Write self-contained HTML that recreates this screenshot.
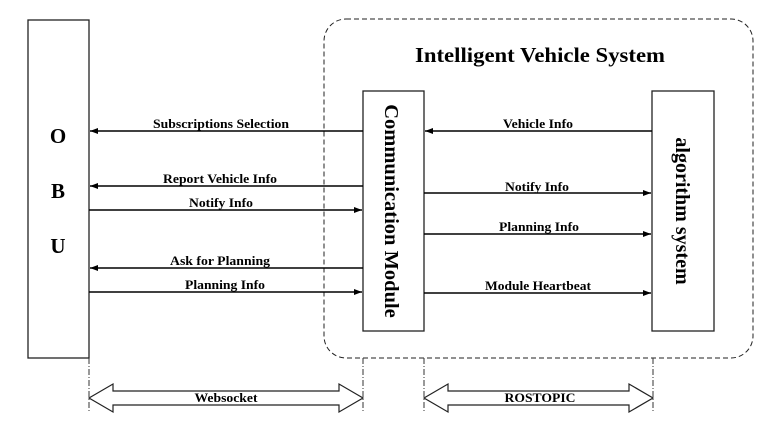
<!DOCTYPE html>
<html><head><style>body{margin:0;background:#fff}</style></head><body>
<svg width="781" height="435" viewBox="0 0 781 435" xmlns="http://www.w3.org/2000/svg" font-family="Liberation Serif, serif" font-weight="bold">
<defs><marker id="a" markerWidth="8" markerHeight="6" refX="8" refY="3" orient="auto" markerUnits="userSpaceOnUse"><path d="M0,0L8,3L0,6z" fill="#000"/></marker></defs>
<rect x="324" y="19" width="429" height="339" rx="22" fill="none" stroke="#222" stroke-dasharray="5,3"/>
<text x="540" y="62" font-size="21" text-anchor="middle" textLength="250" lengthAdjust="spacingAndGlyphs">Intelligent Vehicle System</text>
<rect x="28" y="20" width="61" height="338" fill="#fff" stroke="#222" stroke-width="1.3"/>
<text x="58" y="143" font-size="21" text-anchor="middle">O</text>
<text x="58" y="198" font-size="21" text-anchor="middle">B</text>
<text x="58" y="253" font-size="21" text-anchor="middle">U</text>
<rect x="363" y="91" width="61" height="240" fill="#fff" stroke="#222" stroke-width="1.3"/>
<text transform="translate(385,211) rotate(90)" font-size="20.5" text-anchor="middle">Communication Module</text>
<rect x="652" y="91" width="62" height="240" fill="#fff" stroke="#222" stroke-width="1.3"/>
<text transform="translate(676,211) rotate(90)" font-size="20" text-anchor="middle">algorithm system</text>
<g stroke="#000" stroke-width="1.5" marker-end="url(#a)">
<line x1="363" y1="131" x2="90" y2="131"/>
<line x1="363" y1="186" x2="90" y2="186"/>
<line x1="89" y1="210" x2="362" y2="210"/>
<line x1="363" y1="268" x2="90" y2="268"/>
<line x1="89" y1="292" x2="362" y2="292"/>
<line x1="652" y1="131" x2="425" y2="131"/>
<line x1="424" y1="193" x2="651" y2="193"/>
<line x1="424" y1="234" x2="651" y2="234"/>
<line x1="424" y1="293" x2="651" y2="293"/>
</g>
<g font-size="12.5" text-anchor="middle" lengthAdjust="spacingAndGlyphs">
<text x="221" y="128" textLength="136" lengthAdjust="spacingAndGlyphs">Subscriptions Selection</text>
<text x="220" y="183" textLength="114" lengthAdjust="spacingAndGlyphs">Report Vehicle Info</text>
<text x="221" y="207" textLength="64" lengthAdjust="spacingAndGlyphs">Notify Info</text>
<text x="220" y="265" textLength="100" lengthAdjust="spacingAndGlyphs">Ask for Planning</text>
<text x="225" y="289" textLength="80" lengthAdjust="spacingAndGlyphs">Planning Info</text>
<text x="538" y="128" textLength="70" lengthAdjust="spacingAndGlyphs">Vehicle Info</text>
<text x="537" y="191" textLength="64" lengthAdjust="spacingAndGlyphs">Notify Info</text>
<text x="539" y="231" textLength="80" lengthAdjust="spacingAndGlyphs">Planning Info</text>
<text x="538" y="290" textLength="106" lengthAdjust="spacingAndGlyphs">Module Heartbeat</text>
</g>
<g stroke="#333" stroke-dasharray="6,2,1,2" fill="none">
<line x1="89" y1="358" x2="89" y2="412"/><line x1="363" y1="358" x2="363" y2="412"/>
<line x1="424" y1="358" x2="424" y2="412"/><line x1="653" y1="358" x2="653" y2="412"/>
</g>
<g fill="#fff" stroke="#222" stroke-width="1.2">
<path d="M89,398 L113,384 L113,391 L339,391 L339,384 L363,398 L339,412 L339,405 L113,405 L113,412 Z"/>
<path d="M424,398 L448,384 L448,391 L629,391 L629,384 L653,398 L629,412 L629,405 L448,405 L448,412 Z"/>
</g>
<text x="226" y="402" font-size="12.5" text-anchor="middle" textLength="63" lengthAdjust="spacingAndGlyphs">Websocket</text>
<text x="540" y="402" font-size="12.5" text-anchor="middle" textLength="71" lengthAdjust="spacingAndGlyphs">ROSTOPIC</text>
</svg>
</body></html>
